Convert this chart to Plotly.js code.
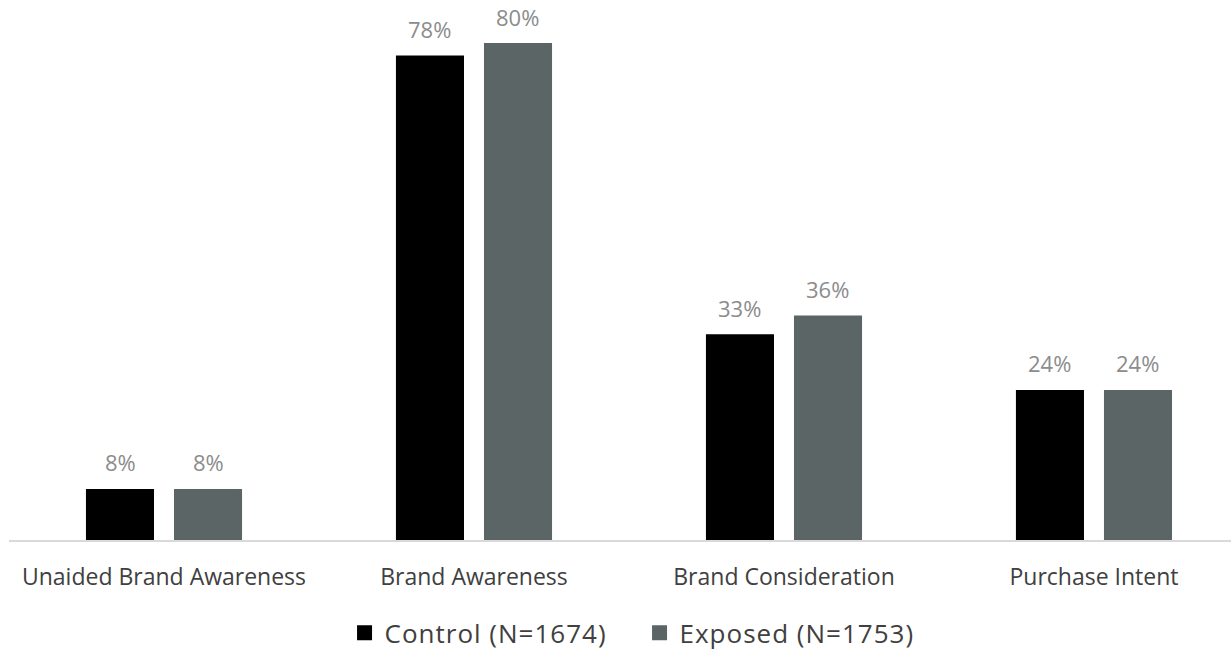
<!DOCTYPE html>
<html>
<head>
<meta charset="utf-8">
<script src="https://cdn.plot.ly/plotly-3.0.1.min.js"></script>
<style>
  html, body { margin: 0; padding: 0; background: #ffffff; overflow: hidden; }
  #chart { width: 1231px; height: 652px; }
  #chart .legendtext { letter-spacing: 1px; }
</style>
</head>
<body>
<div id="chart"></div>
<script>
const categories = ["Unaided Brand Awareness", "Brand Awareness", "Brand Consideration", "Purchase Intent"];
const controlName = "Control (N=1674)";
const exposedName = "Exposed (N=1753)";
const controlValues = [8, 78, 33, 24];
const exposedValues = [8, 80, 36, 24];

const FONT = "Open Sans, Noto Sans, sans-serif";
const COLORS = { control: "#000000", exposed: "#5b6566" };

const traces = [
  { type: "bar", name: controlName, x: categories, y: controlValues,
    marker: { color: COLORS.control, line: { color: COLORS.control, width: 3 } }, hoverinfo: "skip" },
  { type: "bar", name: exposedName, x: categories, y: exposedValues,
    marker: { color: COLORS.exposed, line: { color: COLORS.exposed, width: 3 } }, hoverinfo: "skip" }
];

const annotations = [];
[[controlValues, -44], [exposedValues, 44]].forEach(([vals, dx]) => {
  vals.forEach((v, i) => {
    annotations.push({
      x: categories[i], y: v, xref: "x", yref: "y",
      text: v + "%", showarrow: false, xshift: dx, yshift: 11,
      yanchor: "bottom", xanchor: "center",
      font: { family: FONT, size: 22, color: "#8c8c8c" }
    });
  });
});

const layout = {
  width: 1231, height: 652,
  margin: { l: 9, r: 0, t: 0, b: 112, autoexpand: false },
  paper_bgcolor: "#ffffff", plot_bgcolor: "#ffffff",
  barmode: "group", bargap: 0.432, bargroupgap: 0.261,
  showlegend: true,
  legend: {
    orientation: "h", x: 0.516, xanchor: "center", y: -0.172, yanchor: "middle",
    font: { family: FONT, size: 26, color: "#404040" },
    entrywidth: 250, entrywidthmode: "pixels",
    itemclick: false, itemdoubleclick: false
  },
  xaxis: {
    type: "category", range: [-0.5, 3.442], fixedrange: true, automargin: false,
    showline: true, linecolor: "#d9d9d9", linewidth: 2, layer: "above traces",
    ticks: "", showgrid: false, zeroline: false,
    tickfont: { family: FONT, size: 23, color: "#404040" },
    ticklabelstandoff: 15
  },
  yaxis: {
    range: [0, 87.2], fixedrange: true, visible: false, automargin: false,
    showgrid: false, zeroline: false
  },
  annotations: annotations,
  font: { family: FONT }
};

Plotly.newPlot("chart", traces, layout, { displayModeBar: false, staticPlot: true });
</script>
</body>
</html>
